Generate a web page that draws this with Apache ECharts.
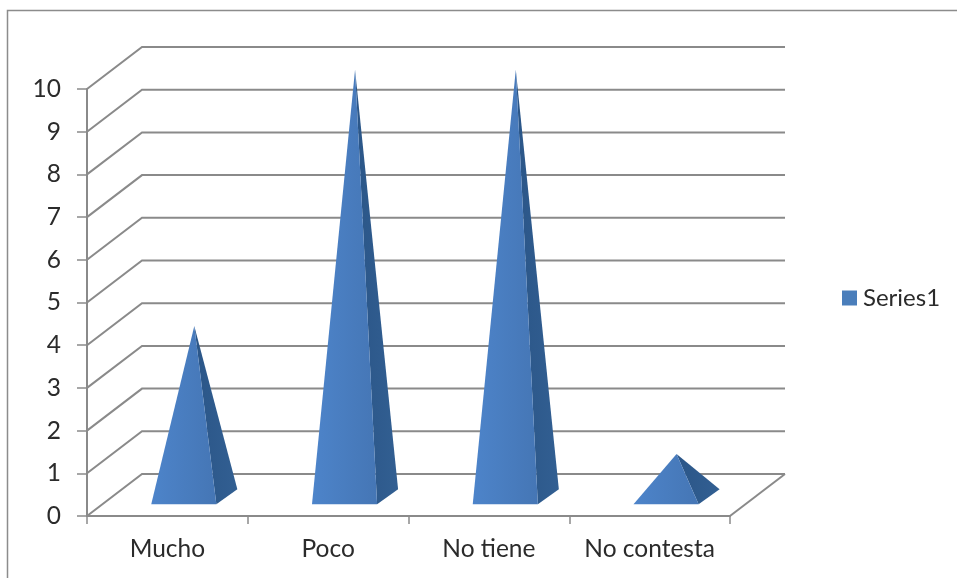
<!DOCTYPE html>
<html>
<head>
<meta charset="utf-8">
<style>html,body{margin:0;padding:0;background:#fff}#chart{width:957px;height:578px}</style>
<script src="https://cdn.jsdelivr.net/npm/echarts@6/dist/echarts.min.js"></script>
</head>
<body>
<div id="chart"></div>
<script>
// Survey answers drawn as 3D-style pyramids on a value/category grid.
const categories = ['Mucho', 'Poco', 'No tiene', 'No contesta'];
const series1 = [4, 10, 10, 1];
const valueTicks = [0, 1, 2, 3, 4, 5, 6, 7, 8, 9, 10];

// Oblique projection of the chart's depth, in pixels.
const DEPTH_X = 55;
const DEPTH_Y = -42;
const LINE_GREY = '#8a8a8a';
const TEXT_COLOR = '#2b2b2b';
const FONT = 'Lato';
const FONT_SIZE = 24.5;

function vgrad(a, b) {
  return new echarts.graphic.LinearGradient(0, 0, 1, 0, [
    { offset: 0, color: a }, { offset: 1, color: b }
  ]);
}

// Back wall and side wall lines: each tick runs up the side wall, then across the back.
function renderWall(params, api) {
  const v = api.value(0);
  const cs = params.coordSys;
  const y = api.coord([0, v])[1];
  const x0 = cs.x, x1 = cs.x + cs.width;
  const children = [{
    type: 'polyline',
    shape: { points: [[x0, y], [x0 + DEPTH_X, y + DEPTH_Y], [x1 + DEPTH_X, y + DEPTH_Y]] },
    style: { fill: null, stroke: LINE_GREY, lineWidth: 2 }
  }];
  if (v === 0) {
    // Floor edge at the right-hand end.
    children.push({
      type: 'line',
      shape: { x1: x1, y1: y, x2: x1 + DEPTH_X, y2: y + DEPTH_Y },
      style: { stroke: LINE_GREY, lineWidth: 2 }
    });
  }
  return { type: 'group', children };
}

// One pyramid: a lit front face and a shaded right-hand face.
function renderPyramid(params, api) {
  const i = api.value(0);
  const top = api.coord([i, api.value(1)]);
  const base = api.coord([i, 0]);
  const band = api.size([1, 0])[0];
  const half = band * 0.2025;
  const cx = base[0] + 1 + 54 * 0.48;
  const by = base[1] + DEPTH_Y * 0.46;
  const sideX = 21, sideY = -15;
  const frontY = by - sideY / 2;
  const fl = [cx - half - sideX / 2, frontY];
  const fr = [cx + half - sideX / 2, frontY];
  const br = [fr[0] + sideX, fr[1] + sideY];
  const apex = [cx, top[1] + DEPTH_Y * 0.46];
  return {
    type: 'group',
    children: [
      { type: 'polygon', shape: { points: [fr, br, apex] },
        style: { fill: vgrad('#2b5688', '#325f92') } },
      { type: 'polygon', shape: { points: [fl, fr, apex] },
        style: { fill: vgrad('#4d84ca', '#4576b5') } }
    ]
  };
}

const chart = echarts.init(document.getElementById('chart'), null, { renderer: 'canvas' });
chart.setOption({
  animation: false,
  backgroundColor: '#ffffff',
  graphic: [{
    type: 'rect',
    silent: true,
    shape: { x: 7.5, y: 10.5, width: 1000, height: 620 },
    style: { fill: null, stroke: '#8c8c8c', lineWidth: 1.5 }
  }],
  legend: {
    data: ['Series1'],
    left: 838,
    top: 286,
    icon: 'rect',
    itemWidth: 15,
    itemHeight: 15,
    itemGap: 0,
    padding: [0, 0, 0, 4],
    textStyle: { fontFamily: FONT, fontSize: 24, color: TEXT_COLOR, padding: [0, 0, 0, 1] }
  },
  grid: { left: 87, top: 89, width: 643, height: 427, containLabel: false },
  xAxis: {
    type: 'category',
    data: categories,
    axisLine: { lineStyle: { color: LINE_GREY, width: 2 } },
    axisTick: { show: true, length: 8, lineStyle: { color: LINE_GREY, width: 1.5 } },
    axisLabel: { margin: 21, interval: 0, fontFamily: FONT, fontSize: FONT_SIZE, color: TEXT_COLOR },
    splitLine: { show: false }
  },
  yAxis: {
    type: 'value',
    min: 0,
    max: 10,
    interval: 1,
    axisLine: { show: true, lineStyle: { color: LINE_GREY, width: 2 } },
    axisTick: { show: true, length: 10, lineStyle: { color: LINE_GREY, width: 1.5 } },
    axisLabel: { margin: 26, fontFamily: FONT, fontSize: FONT_SIZE, color: TEXT_COLOR },
    splitLine: { show: false }
  },
  series: [
    {
      name: 'walls',
      type: 'custom',
      renderItem: renderWall,
      data: valueTicks.map(v => [v]),
      encode: { y: 0 },
      clip: false,
      silent: true,
      z: 1
    },
    {
      name: 'Series1',
      type: 'custom',
      renderItem: renderPyramid,
      data: series1.map((v, i) => [i, v]),
      encode: { x: 0, y: 1 },
      itemStyle: { color: '#4a7ebb' },
      clip: false,
      z: 3
    }
  ]
});
</script>
</body>
</html>
